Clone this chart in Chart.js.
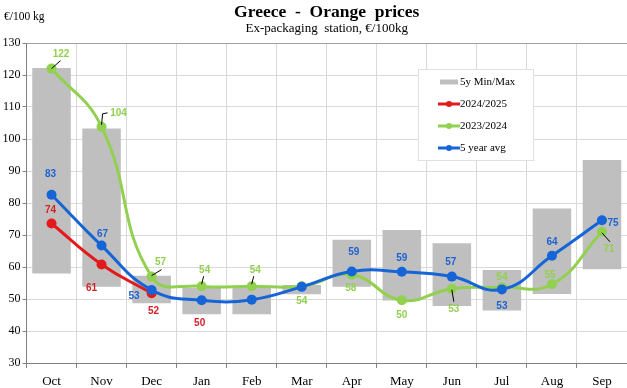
<!DOCTYPE html>
<html>
<head>
<meta charset="utf-8">
<script src="https://cdn.jsdelivr.net/npm/chart.js@4.4.1/dist/chart.umd.min.js"></script>
<style>
html, body { margin: 0; padding: 0; overflow: hidden; background: #fff; }
#wrap { width: 632px; height: 388px; }
</style>
</head>
<body>
<div id="wrap"><canvas id="chart" width="632" height="388"></canvas></div>
<script>
// data
const months = ['Oct', 'Nov', 'Dec', 'Jan', 'Feb', 'Mar', 'Apr', 'May', 'Jun', 'Jul', 'Aug', 'Sep'];
const minMaxLow  = [58, 53.8, 48.7, 45.2, 45.2, 51.5, 53.8, 49.5, 47.8, 46.4, 51.6, 59.3];
const minMaxHigh = [122.2, 103.3, 57.3, 53.5, 53.5, 54.4, 68.5, 71.6, 67.4, 59.1, 78.3, 93.4];
const season2425 = [73.6, 60.8, 51.8, null, null, null, null, null, null, null, null, null];
const season2324 = [122, 103.8, 57, 54, 54, 54, 57.6, 49.6, 53.2, 53.7, 54.6, 71];
const avg5y      = [82.6, 66.7, 52.8, 49.6, 49.8, 53.8, 58.6, 58.5, 57, 53, 63.5, 74.6];
const yMin = 30, yMax = 130, yStep = 10;

const GREEN = '#92d050', RED = '#e31a1c', BLUE = '#1565d8', GREY = '#bfbfbf';
const SERIF = '"Liberation Serif", "Times New Roman", serif';

// label placement relative to each point (dx, dy), optional leader line
const greenLabels = [
  { dx: 9.5, dy: -14.5, leader: [[0, 0], [9, -8]] },
  { dx: 17, dy: -13.5, leader: [[0, -2], [1, -13], [6, -14]] },
  { dx: 9, dy: -14, leader: [[0, -1], [10, -7]] },
  { dx: 3, dy: -16, leader: [[0, -2], [2, -10]] },
  { dx: 3.5, dy: -16, leader: [[0, -2], [2, -10]] },
  { dx: 0, dy: 15 },
  { dx: -1, dy: 14 },
  { dx: 0, dy: 15 },
  { dx: 2, dy: 20, leader: [[0, 1], [2, 13]] },
  { dx: 0, dy: -10 },
  { dx: -2, dy: -9 },
  { dx: 7, dy: 17, leader: [[0, 1], [8, 10]] }
];
const redLabels = [
  { dx: -1, dy: -13 },
  { dx: -10, dy: 24 },
  { dx: 2, dy: 18 }
];
const blueLabels = [
  { dx: -1, dy: -20 },
  { dx: 1, dy: -11.5 },
  { dx: -17.5, dy: 6 },
  { dx: -2, dy: 23, color: '#d42027' },
  null,
  null,
  { dx: 2, dy: -19 },
  { dx: 0, dy: -14 },
  { dx: -1, dy: -14 },
  { dx: 0, dy: 16.5 },
  { dx: 0, dy: -14 },
  { dx: 11, dy: 3 }
];

const pointLabels = {
  id: 'pointLabels',
  afterDatasetsDraw(chart) {
    const ctx = chart.ctx;
    ctx.save();
    ctx.font = 'bold 10px "Liberation Sans", Arial, sans-serif';
    ctx.textAlign = 'center';
    ctx.textBaseline = 'middle';
    chart.data.datasets.forEach((ds, di) => {
      if (!ds.pointLabels) return;
      const meta = chart.getDatasetMeta(di);
      ds.pointLabels.forEach((s, i) => {
        if (!s || ds.data[i] == null) return;
        const pt = meta.data[i];
        if (s.leader) {
          ctx.strokeStyle = '#000';
          ctx.lineWidth = 1;
          ctx.beginPath();
          s.leader.forEach(([lx, ly], k) => {
            if (k === 0) ctx.moveTo(pt.x + lx, pt.y + ly);
            else ctx.lineTo(pt.x + lx, pt.y + ly);
          });
          ctx.stroke();
        }
        ctx.fillStyle = s.color || ds.labelColor;
        ctx.fillText(Math.round(ds.data[i]), pt.x + s.dx, pt.y + s.dy);
      });
    });
    ctx.restore();
  }
};

// titles, unit and the boxed legend
const decorations = {
  id: 'decorations',
  afterDraw(chart) {
    const ctx = chart.ctx;
    const area = chart.chartArea;
    const cx = (area.left + area.right) / 2;
    ctx.save();
    ctx.fillStyle = '#000';
    ctx.textAlign = 'center';
    ctx.textBaseline = 'alphabetic';
    ctx.font = 'bold 17.5px ' + SERIF;
    ctx.fillText('Greece  -  Orange  prices', cx, 17);
    ctx.font = '13px ' + SERIF;
    ctx.fillText('Ex-packaging  station, €/100kg', cx, 32);
    ctx.textAlign = 'left';
    ctx.font = '11.5px ' + SERIF;
    ctx.fillText('€/100 kg', 4, 20);

    // legend
    ctx.fillStyle = '#fff';
    ctx.fillRect(418.5, 69.5, 115, 91);
    ctx.strokeStyle = '#e0e0e0';
    ctx.lineWidth = 1;
    ctx.strokeRect(418.5, 69.5, 115, 91);
    ctx.font = '11px ' + SERIF;
    ctx.textBaseline = 'middle';
    const rows = [82, 104, 126, 148];
    chart.data.datasets.forEach((ds, i) => {
      const y = rows[i];
      if (ds.type === 'bar') {
        ctx.fillStyle = GREY;
        ctx.fillRect(440, y - 2.5, 18, 5);
      } else {
        ctx.strokeStyle = ds.borderColor;
        ctx.lineWidth = 3;
        ctx.beginPath();
        ctx.moveTo(438, y);
        ctx.lineTo(460, y);
        ctx.stroke();
        ctx.fillStyle = ds.borderColor;
        ctx.beginPath();
        ctx.arc(449, y, 3, 0, Math.PI * 2);
        ctx.fill();
      }
      ctx.fillStyle = '#000';
      ctx.fillText(ds.label, 460, y);
    });
    ctx.restore();
  }
};

const lineStyle = (color) => ({
  type: 'line',
  borderColor: color,
  backgroundColor: color,
  borderWidth: 3,
  pointRadius: 5,
  pointHoverRadius: 5,
  pointBackgroundColor: color,
  pointBorderWidth: 0,
  tension: 0.45,
  fill: false
});

new Chart(document.getElementById('chart'), {
  data: {
    labels: months,
    datasets: [
      {
        type: 'bar',
        label: '5y Min/Max',
        data: minMaxLow.map((lo, i) => [lo, minMaxHigh[i]]),
        backgroundColor: GREY,
        barPercentage: 0.77,
        categoryPercentage: 1,
        order: 4
      },
      Object.assign(lineStyle(RED), {
        label: '2024/2025', data: season2425, order: 2,
        labelColor: '#d42027', pointLabels: redLabels
      }),
      Object.assign(lineStyle(GREEN), {
        label: '2023/2024', data: season2324, order: 3,
        labelColor: GREEN, pointLabels: greenLabels
      }),
      Object.assign(lineStyle(BLUE), {
        label: '5 year avg', data: avg5y, order: 1,
        labelColor: '#1f63d3', pointLabels: blueLabels
      })
    ]
  },
  options: {
    responsive: false,
    animation: false,
    layout: { padding: { top: 43, right: 2, bottom: 0, left: 0 } },
    plugins: {
      legend: { display: false },
      title: { display: false },
      tooltip: { enabled: false }
    },
    scales: {
      x: {
        offset: true,
        grid: { color: '#d9d9d9', tickColor: '#808080', tickLength: 5, offset: true },
        border: { color: '#808080' },
        ticks: { color: '#000', font: { family: SERIF, size: 13 }, padding: 6 },
        afterFit(scale) { scale.height = 25; }
      },
      y: {
        min: yMin,
        max: yMax,
        ticks: { stepSize: yStep, color: '#000', font: { family: SERIF, size: 12 }, padding: 2 },
        grid: {
          color: (c) => (c.tick && c.tick.value === yMax ? '#a0a0a0' : '#d9d9d9'),
          tickColor: '#808080',
          tickLength: 4
        },
        border: { color: '#808080' },
        afterFit(scale) { scale.width = 26.5; }
      }
    }
  },
  plugins: [pointLabels, decorations]
});
</script>
</body>
</html>
